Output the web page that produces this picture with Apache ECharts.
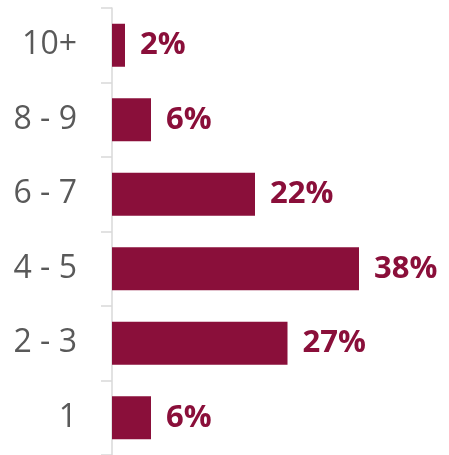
<!DOCTYPE html>
<html>
<head>
<meta charset="utf-8">
<script src="https://cdn.jsdelivr.net/npm/echarts@6/dist/echarts.min.js"></script>
<style>
  html, body { margin: 0; padding: 0; background: #fff; }
  #chart { width: 449px; height: 455px; }
</style>
</head>
<body>
<div id="chart"></div>
<script>
// Categories listed bottom-to-top (category axis on y runs upward)
const categories = ['1', '2 - 3', '4 - 5', '6 - 7', '8 - 9', '10+'];
const shares = [6, 27, 38, 22, 6, 2];

const barColor = '#8A0F3A';
const axisGray = '#D9D9D9';

const chart = echarts.init(document.getElementById('chart'), null, { renderer: 'canvas' });

chart.setOption({
  animation: false,
  grid: { left: 112, top: 8, width: 325, height: 450, containLabel: false },
  xAxis: {
    type: 'value',
    min: 0,
    max: 50,
    show: false
  },
  yAxis: {
    type: 'category',
    data: categories,
    axisLine: { show: true, lineStyle: { color: axisGray, width: 1.5 } },
    axisTick: { show: true, length: 11, lineStyle: { color: axisGray, width: 1.5 } },
    axisLabel: {
      margin: 35,
      color: '#595959',
      fontSize: 32,
      fontFamily: '"Open Sans", "Liberation Sans", sans-serif'
    },
    splitLine: { show: false }
  },
  series: [{
    type: 'bar',
    data: shares,
    barWidth: 43,
    itemStyle: { color: barColor },
    label: {
      show: true,
      position: 'right',
      distance: 15,
      formatter: p => p.value + '%',
      color: barColor,
      fontSize: 31,
      fontWeight: 'bold',
      fontFamily: '"Open Sans", "Liberation Sans", sans-serif'
    }
  }]
});
</script>
</body>
</html>
